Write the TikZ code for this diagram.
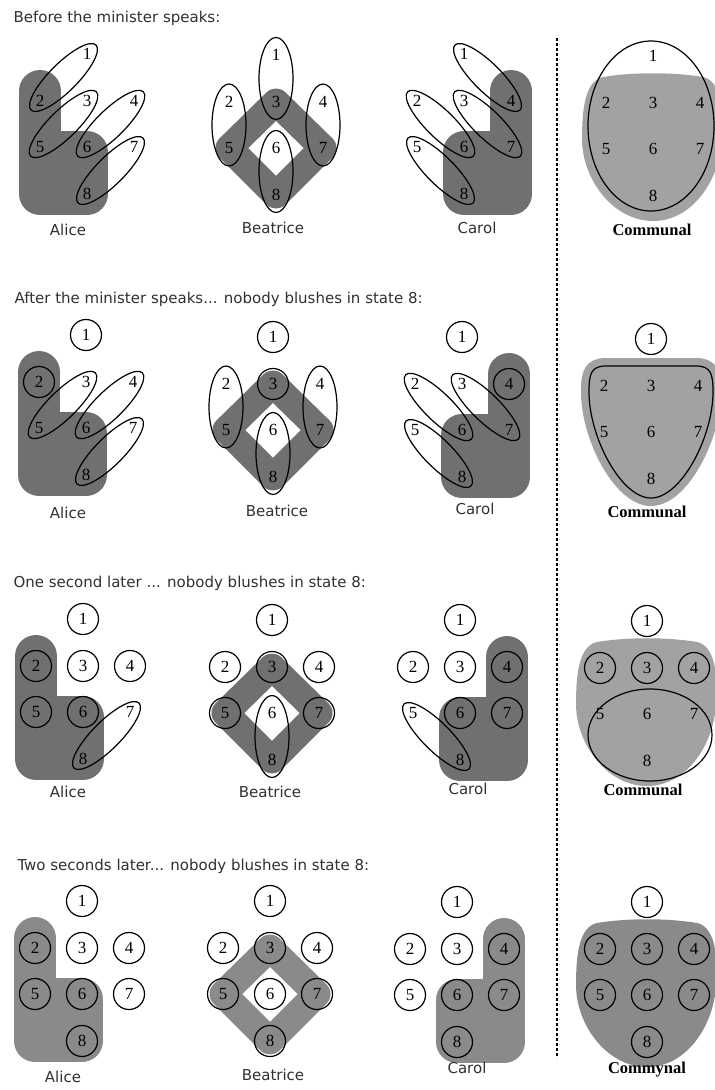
\documentclass[tikz,border=0pt]{standalone}
\usepackage{fontspec}
\setmainfont{Liberation Serif}
\setsansfont{DejaVu Sans}
\usepackage{tikz}
\usetikzlibrary{shapes.geometric,calc,backgrounds}

\definecolor{InkGray} {HTML}{303030}
\definecolor{BlushDk} {HTML}{707070}
\definecolor{BlushMd} {HTML}{8A8A8A}
\definecolor{BlushLt} {HTML}{A2A2A2}

% the eight states of one panel, state 1 at (#2,#3)
\newcommand{\placestates}[3]{%
  \node[num] (#1n1) at ({#2},{#3}) {1};
  \node[num] (#1n2) at ({#2-47},{#3+47}) {2};
  \node[num] (#1n3) at ({#2},{#3+47}) {3};
  \node[num] (#1n4) at ({#2+47},{#3+47}) {4};
  \node[num] (#1n5) at ({#2-47},{#3+93}) {5};
  \node[num] (#1n6) at ({#2},{#3+93}) {6};
  \node[num] (#1n7) at ({#2+47},{#3+93}) {7};
  \node[num] (#1n8) at ({#2},{#3+140}) {8};
}
\newcommand{\rings}[2]{\foreach \k in {#2} {\node[ring] (#1r\k) at (#1n\k) {};}}
\newcommand{\pairell}[4][diag]{\path (#2n#3) -- (#2n#4) node[#1,midway,sloped] (#2e#3#4) {};}

% blush regions
\newcommand{\alicebl}[2][BlushDk]{\filldraw[blush=#1] ($(#2n2)+(0,-10)$) -- (#2n5 |- #2n8) -- (#2n8.center)
  -- ($(#2n6)+(0,5)$) -- ($(#2n5)+(0,5)$) -- cycle;}
\newcommand{\carolbl}[2][BlushDk]{\filldraw[blush=#1] ($(#2n4)+(0,-10)$) -- (#2n4 |- #2n8) -- (#2n8.center)
  -- ($(#2n6)+(0,5)$) -- ($(#2n7)+(0,5)$) -- cycle;}
\newcommand{\beabl}[2][BlushDk]{\draw[band=#1] (#2n3.center) -- (#2n7.center) -- (#2n8.center) -- (#2n5.center) -- cycle;}
\newcommand{\commbl}[2][BlushLt]{\fill[#1,shift={(#2n6)}] (-50,-72) .. controls (-20,-77) and (20,-77) .. (50,-72)
  .. controls (68,-68) and (71,-40) .. (69,-10) .. controls (67,30) and (40,72) .. (0,72)
  .. controls (-40,72) and (-71,30) .. (-71,-10) .. controls (-71,-40) and (-68,-68) .. (-50,-72) -- cycle;}

\begin{document}
\begin{tikzpicture}[x=1pt,y=-1pt,
  num/.style={inner sep=0pt,font=\fontsize{17}{17}\selectfont},
  ring/.style={draw,circle,minimum size=31pt,inner sep=0pt,line width=1.2pt},
  diag/.style={draw,ellipse,minimum width=92pt,minimum height=28pt,inner sep=0pt,line width=1.2pt},
  vert/.style={draw,ellipse,minimum width=82pt,minimum height=34pt,inner sep=0pt,line width=1.2pt},
  rim/.style={draw,ellipse,inner sep=0pt,line width=1.2pt},
  hdr/.style={anchor=base west,font=\sffamily\fontsize{15}{18}\selectfont,text=InkGray},
  who/.style={font=\sffamily\fontsize{15}{18}\selectfont,text=InkGray},
  comm/.style={font=\bfseries\fontsize{16.5}{18}\selectfont},
  blush/.style={fill=#1,draw=#1,line width=42pt,line join=round},
  band/.style={draw=#1,line width=27pt,line join=round},
  dotline/.style={line width=2.5pt,dash pattern=on 3pt off 2pt}
]
  \useasboundingbox (0,0) rectangle (715,1090);

  % Before the minister speaks
  \node[hdr] (h1) at (10,22) {Before the minister speaks:};
  \placestates{A1}{87}{54}
  \placestates{B1}{276}{55}
  \placestates{K1}{464}{54}
  \placestates{C1}{653}{56}
  \pairell{A1}{1}{2} \pairell{A1}{3}{5} \pairell{A1}{4}{6} \pairell{A1}{7}{8}
  \pairell[vert]{B1}{1}{3} \pairell[vert]{B1}{2}{5} \pairell[vert]{B1}{4}{7} \pairell[vert]{B1}{6}{8}
  \pairell{K1}{1}{4} \pairell{K1}{2}{6} \pairell{K1}{3}{7} \pairell{K1}{5}{8}
  \node[rim,minimum width=126pt,minimum height=170pt] (C1rim) at ($(C1n6)+(-2,-23)$) {};
  \node[who] (A1lbl) at (68,230) {Alice};
  \node[who] (B1lbl) at (273,228) {Beatrice};
  \node[who] (K1lbl) at (477,228) {Carol};
  \node[comm] (C1lbl) at (652,230) {Communal};

  % After the minister speaks
  \node[hdr] (h2) at (11,303) {After the minister speaks... nobody blushes in state 8:};
  \placestates{A2}{86}{335}
  \placestates{B2}{273}{337}
  \placestates{K2}{462}{337}
  \placestates{C2}{651}{339}
  \rings{A2}{1,2} \rings{B2}{1,3} \rings{K2}{1,4} \rings{C2}{1}
  \pairell{A2}{3}{5} \pairell{A2}{4}{6} \pairell{A2}{7}{8}
  \pairell[vert]{B2}{2}{5} \pairell[vert]{B2}{4}{7} \pairell[vert]{B2}{6}{8}
  \pairell{K2}{2}{6} \pairell{K2}{3}{7} \pairell{K2}{5}{8}
  \node[who] (A2lbl) at (68,513) {Alice};
  \node[who] (B2lbl) at (277,511) {Beatrice};
  \node[who] (K2lbl) at (475,509) {Carol};
  \node[comm] (C2lbl) at (647,512) {Communal};

  % One second later
  \node[hdr] (h3) at (10,587) {One second later ... nobody blushes in state 8:};
  \placestates{A3}{83}{619}
  \placestates{B3}{272}{620}
  \placestates{K3}{460}{620}
  \placestates{C3}{647}{621}
  \rings{A3}{1,2,3,4,5,6} \rings{B3}{1,2,3,4,5,7} \rings{K3}{1,2,3,4,6,7} \rings{C3}{1,2,3,4}
  \pairell{A3}{7}{8}
  \pairell[vert]{B3}{6}{8}
  \pairell{K3}{5}{8}
  \node[rim,minimum width=124pt,minimum height=92pt] (C3rim) at ($(C3n6)+(3,21)$) {};
  \node[who] (A3lbl) at (68,792) {Alice};
  \node[who] (B3lbl) at (270,792) {Beatrice};
  \node[who] (K3lbl) at (468,789) {Carol};
  \node[comm] (C3lbl) at (643,790) {Communal};

  % Two seconds later
  \node[hdr] (h4) at (14,870) {Two seconds later... nobody blushes in state 8:};
  \placestates{A4}{82}{901}
  \placestates{B4}{270}{901}
  \placestates{K4}{457}{902}
  \placestates{C4}{647}{902}
  \rings{A4}{1,...,8} \rings{B4}{1,...,8} \rings{K4}{1,...,8} \rings{C4}{1,...,8}
  \node[who] (A4lbl) at (63,1077) {Alice};
  \node[who] (B4lbl) at (273,1075) {Beatrice};
  \node[who] (K4lbl) at (467,1068) {Carol};
  \node[comm] (C4lbl) at (647,1070) {Commynal};

  % divider
  \coordinate (divtop) at (557,38);
  \coordinate (divbot) at (557,1058);
  \draw[dotline] (divtop) -- (divbot);

  % blushing regions
  \begin{scope}[on background layer]
    \alicebl{A1} \beabl{B1} \carolbl{K1} \commbl{C1}
    \alicebl{A2} \beabl{B2} \carolbl{K2}
    \draw[line width=1.2pt,shift={(C2n6)},preaction={fill=BlushLt,draw=BlushLt,line width=16pt}]
      (-45,-66) -- (45,-66) .. controls (60,-66) and (62,-58) .. (62,-40)
      .. controls (62,5) and (30,66) .. (0,66) .. controls (-30,66) and (-62,5) .. (-62,-40)
      .. controls (-62,-58) and (-60,-66) .. (-45,-66) -- cycle;
    \alicebl{A3} \beabl{B3} \carolbl{K3} \commbl{C3}
    \alicebl[BlushMd]{A4} \beabl[BlushMd]{B4} \carolbl[BlushMd]{K4} \commbl[BlushMd]{C4}
  \end{scope}
\end{tikzpicture}
\end{document}
